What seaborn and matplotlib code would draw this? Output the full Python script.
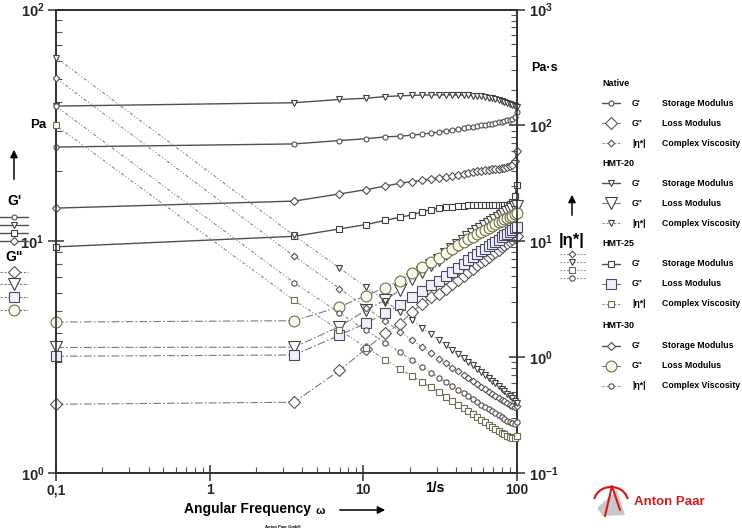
import matplotlib
matplotlib.use("Agg")
import matplotlib.pyplot as plt
import seaborn as sns
import numpy as np
from matplotlib.lines import Line2D
from matplotlib.patches import Arc, Polygon

# ---------------- data ----------------
freq = [0.1, 3.54, 6.99, 10.43, 13.88, 17.32, 20.77, 24.21, 27.66, 31.1, 34.55, 37.99,
        41.44, 44.88, 48.33, 51.77, 55.22, 58.66, 62.11, 65.55, 69.0, 72.44, 75.89,
        79.33, 82.78, 86.22, 89.67, 93.11, 96.56, 100.0]

native_gp = [25.5, 26.3, 27.2, 27.7, 28.2, 28.4, 28.7, 29.0, 29.3, 29.6, 29.9, 30.2, 30.5, 30.7,
             31.0, 31.2, 31.4, 31.6, 31.8, 32.0, 32.2, 32.4, 32.6, 32.8, 33.0, 33.2, 33.4, 33.8,
             34.5, 36.0]
native_gpp = [1.98, 2.02, 2.77, 3.44, 4.00, 4.41, 4.96, 5.38, 5.74, 5.92, 6.23, 6.54, 6.81, 7.10,
              7.36, 7.62, 7.87, 8.11, 8.34, 8.58, 8.79, 9.00, 9.21, 9.42, 9.62, 9.81, 10.01, 10.20,
              10.38, 10.56]
native_eta = [255.8, 7.45, 3.91, 2.68, 2.05, 1.66, 1.40, 1.22, 1.08, 0.971, 0.884, 0.813, 0.754,
              0.702, 0.659, 0.620, 0.586, 0.556, 0.529, 0.505, 0.484, 0.464, 0.446, 0.430, 0.415,
              0.402, 0.389, 0.379, 0.373, 0.375]

hmt20_gp = [38.3, 39.6, 40.9, 41.4, 42.1, 42.4, 42.6, 42.7, 42.8, 42.8, 42.8, 42.8, 42.7, 42.7,
            42.6, 42.5, 42.4, 42.2, 42.0, 41.7, 41.4, 41.1, 40.7, 40.3, 39.9, 39.5, 39.0, 38.6,
            38.2, 37.8]
hmt20_gpp = [3.48, 3.49, 4.28, 5.05, 5.57, 6.16, 6.84, 7.40, 7.89, 8.34, 8.85, 9.30, 9.68, 10.07,
             10.43, 10.74, 11.07, 11.34, 11.63, 11.89, 12.14, 12.37, 12.62, 12.85, 13.08, 13.31,
             13.54, 13.77, 14.01, 14.23]
hmt20_eta = [384.6, 11.23, 5.88, 4.00, 3.06, 2.47, 2.08, 1.79, 1.57, 1.40, 1.265, 1.153, 1.057,
             0.978, 0.908, 0.847, 0.794, 0.745, 0.702, 0.662, 0.625, 0.593, 0.562, 0.533, 0.507,
             0.483, 0.460, 0.440, 0.421, 0.404]

hmt25_gp = [9.46, 10.5, 11.3, 11.8, 12.3, 12.7, 13.0, 13.4, 13.7, 13.9, 14.0, 14.1, 14.2, 14.2,
            14.3, 14.3, 14.3, 14.3, 14.3, 14.3, 14.3, 14.3, 14.3, 14.3, 14.4, 14.4, 14.5, 14.8,
            15.6, 17.5]
hmt25_gpp = [3.19, 3.23, 3.93, 4.44, 4.88, 5.30, 5.76, 6.13, 6.47, 6.73, 7.07, 7.39, 7.68, 7.98,
             8.26, 8.52, 8.78, 9.04, 9.27, 9.51, 9.73, 9.95, 10.17, 10.38, 10.59, 10.79, 10.99,
             11.18, 11.38, 11.55]
hmt25_eta = [99.8, 3.10, 1.71, 1.21, 0.953, 0.795, 0.685, 0.609, 0.548, 0.497, 0.454, 0.419,
             0.390, 0.363, 0.342, 0.322, 0.304, 0.288, 0.274, 0.262, 0.251, 0.241, 0.231, 0.223,
             0.216, 0.209, 0.203, 0.199, 0.200, 0.210]

hmt30_gp = [13.9, 14.9, 16.0, 16.7, 17.3, 17.8, 18.1, 18.3, 18.6, 18.8, 19.0, 19.2, 19.4, 19.6,
            19.7, 19.9, 20.0, 20.1, 20.2, 20.3, 20.4, 20.5, 20.6, 20.7, 20.8, 20.9, 21.1, 21.4,
            22.2, 24.5]
hmt30_gpp = [4.48, 4.54, 5.21, 5.83, 6.31, 6.77, 7.29, 7.78, 8.15, 8.50, 8.92, 9.28, 9.60, 9.90,
             10.2, 10.45, 10.72, 10.97, 11.2, 11.43, 11.65, 11.86, 12.06, 12.25, 12.43, 12.6,
             12.75, 12.9, 13.05, 13.2]
hmt30_eta = [146.0, 4.40, 2.41, 1.70, 1.33, 1.10, 0.940, 0.821, 0.734, 0.663, 0.608, 0.561,
             0.522, 0.489, 0.459, 0.434, 0.411, 0.390, 0.372, 0.355, 0.341, 0.327, 0.315, 0.303,
             0.293, 0.283, 0.275, 0.268, 0.267, 0.278]

samples = ["Native", "HMT-20", "HMT-25", "HMT-30"]
left_ticks = [1, 10, 100]
left_labels = [r"$\mathbf{10^{0}}$", r"$\mathbf{10^{1}}$", r"$\mathbf{10^{2}}$"]
right_ticks = [0.1, 1, 10, 100, 1000]
right_labels = [r"$\mathbf{10^{-1}}$", r"$\mathbf{10^{0}}$", r"$\mathbf{10^{1}}$",
                r"$\mathbf{10^{2}}$", r"$\mathbf{10^{3}}$"]
x_ticks = [0.1, 1, 10, 100]
x_labels = ["0,1", "1", "10", "100"]

# ---------------- styles ----------------
sns.set_style("ticks")
plt.rcParams["font.family"] = ["Liberation Sans", "DejaVu Sans"]
plt.rcParams["mathtext.fontset"] = "custom"
plt.rcParams["mathtext.bf"] = "Liberation Sans:bold"
plt.rcParams["mathtext.rm"] = "Liberation Sans"

INK = "#303030"
GP_LINE = "#505050"
GPP_LINE = "#7a7a7a"
ETA_LINE = "#8a8a8a"
GPP_DASH = (0, (7, 2, 1.5, 2))
ETA_DASH = (0, (3, 1.8, 1, 1.8, 1, 1.8))

gp_style = {
    "Native": dict(marker="o", ms=3.6, mec="#505050", mfc="white"),
    "HMT-20": dict(marker="v", ms=5.0, mec="#404040", mfc="white"),
    "HMT-25": dict(marker="s", ms=4.6, mec="#404040", mfc="white"),
    "HMT-30": dict(marker="D", ms=3.6, mec="#505050", mfc="white"),
}
gpp_style = {
    "Native": dict(marker="D", ms=6.6, mec="#555555", mfc="white"),
    "HMT-20": dict(marker="v", ms=8.2, mec="#404040", mfc="white"),
    "HMT-25": dict(marker="s", ms=7.8, mec="#4a4a68", mfc="#f0f0fa"),
    "HMT-30": dict(marker="o", ms=7.8, mec="#6e6e4a", mfc="#fbfbec"),
}
eta_style = {
    "Native": dict(marker="D", ms=3.4, mec="#555555", mfc="white"),
    "HMT-20": dict(marker="v", ms=4.6, mec="#404040", mfc="white"),
    "HMT-25": dict(marker="s", ms=5.0, mec="#6b7050", mfc="white"),
    "HMT-30": dict(marker="o", ms=3.8, mec="#5a4a4a", mfc="white"),
}

gp_data = {"Native": native_gp, "HMT-20": hmt20_gp, "HMT-25": hmt25_gp, "HMT-30": hmt30_gp}
gpp_data = {"Native": native_gpp, "HMT-20": hmt20_gpp, "HMT-25": hmt25_gpp, "HMT-30": hmt30_gpp}
eta_data = {"Native": native_eta, "HMT-20": hmt20_eta, "HMT-25": hmt25_eta, "HMT-30": hmt30_eta}

W, H = 742, 531
fig = plt.figure(figsize=(W / 100, H / 100), dpi=100)
ax = fig.add_axes([56 / W, 1 - 473 / H, (517 - 56) / W, (473 - 9.5) / H])
ax2 = ax.twinx()

def draw(axis, y, st, color, ls, lw, z):
    sns.lineplot(x=freq, y=y, ax=axis, estimator=None, sort=False, legend=False,
                 color=color, linestyle=ls, linewidth=lw, marker=st["marker"],
                 markersize=st["ms"], markeredgecolor=st["mec"], markerfacecolor=st["mfc"],
                 markeredgewidth=0.8, clip_on=False, zorder=z)

for s in samples:
    draw(ax, gp_data[s], gp_style[s], GP_LINE, "-", 1.0, 3)
for s in samples:
    draw(ax, gpp_data[s], gpp_style[s], GPP_LINE, GPP_DASH, 0.8, 4)
for s in samples:
    draw(ax2, eta_data[s], eta_style[s], ETA_LINE, ETA_DASH, 0.8, 3)

ax.set_xscale("log")
ax.set_yscale("log")
ax2.set_yscale("log")
ax.set_xlim(0.1, 100)
ax.set_ylim(1, 100)
ax2.set_ylim(0.1, 1000)

ax.set_xticks(x_ticks)
ax.set_xticklabels(x_labels, fontweight="bold", fontsize=10)
ax.set_yticks(left_ticks)
ax.set_yticklabels(left_labels, fontsize=10.5)
ax2.set_yticks(right_ticks)
ax2.set_yticklabels(right_labels, fontsize=10.5)
ax.yaxis.set_minor_formatter(matplotlib.ticker.NullFormatter())
ax2.yaxis.set_minor_formatter(matplotlib.ticker.NullFormatter())
ax.xaxis.set_minor_formatter(matplotlib.ticker.NullFormatter())
ax.set_xlabel("")
ax.set_ylabel("")
ax2.set_ylabel("")

for a in (ax, ax2):
    for sp in a.spines.values():
        sp.set_color(INK)
        sp.set_linewidth(1.2)
    a.set_facecolor("none")
ax.tick_params(which="major", direction="inout", length=11, width=1.1, color=INK, pad=3)
ax.tick_params(which="minor", direction="in", length=4, width=0.8, color="#555555")
ax.tick_params(axis="x", which="major", pad=2)
ax2.tick_params(which="major", direction="inout", length=11, width=1.1, color=INK, pad=3)
ax2.tick_params(which="minor", direction="in", length=4, width=0.8, color="#555555")
ax.tick_params(axis="y", right=False, which="both")
ax.tick_params(axis="x", top=False, which="both")

# ---------------- overlay annotations ----------------
ov = fig.add_axes([0, 0, 1, 1], zorder=10)
ov.set_xlim(0, W)
ov.set_ylim(H, 0)
ov.axis("off")

bold = dict(fontweight="bold", color="black")

def arrow_up(x, y0, y1):
    ov.annotate("", xy=(x, y1), xytext=(x, y0),
                arrowprops=dict(arrowstyle="-|>", color="black", lw=1.1, mutation_scale=11))

# left unit & symbols
ov.text(38, 125, "Pa", fontsize=9.5, ha="center", va="center", **bold)
arrow_up(14, 182, 147)
ov.text(14, 201, "G'", fontsize=10, ha="center", va="center", **bold)
for y, s in zip([217, 225, 233, 241], samples):
    st = gp_style[s]
    ov.add_line(Line2D([0, 28], [y, y], color=GP_LINE, lw=1.0))
    ov.add_line(Line2D([14], [y], marker=st["marker"], ms=st["ms"], mec=st["mec"],
                       mfc="white", mew=0.8, ls="none"))
ov.text(14, 257, 'G"', fontsize=10, ha="center", va="center", **bold)
for y, s in zip([272, 284, 297, 310], ["Native", "HMT-20", "HMT-25", "HMT-30"]):
    st = gpp_style[s]
    ov.add_line(Line2D([0, 28], [y, y], color=GPP_LINE, lw=0.8, ls=(0, (2, 1.5))))
    ov.add_line(Line2D([14], [y], marker=st["marker"], ms=st["ms"], mec=st["mec"],
                       mfc=st["mfc"], mew=0.8, ls="none"))

# right unit & symbols
ov.text(531, 68, "Pa·s", fontsize=9, ha="left", va="center", **bold)
arrow_up(572, 218, 192)
ov.text(572, 241, "|η*|", fontsize=12, ha="center", va="center", **bold)
for y, s in zip([254, 262, 270, 278], samples):
    st = eta_style[s]
    ov.add_line(Line2D([560, 585], [y, y], color=ETA_LINE, lw=0.8, ls=(0, (1.5, 1.5))))
    ov.add_line(Line2D([572], [y], marker=st["marker"], ms=st["ms"], mec=st["mec"],
                       mfc="white", mew=0.8, ls="none"))

# legend block
heads = [83, 163, 244, 326]
for s, y0 in zip(samples, heads):
    ov.text(602, y0, s, fontsize=6.5, ha="left", va="center", **bold)
    rows = [(y0 + 20, gp_style[s], "-", 1.0, GP_LINE, "G'", "Storage Modulus"),
            (y0 + 40, gpp_style[s], "-", 0.8, GPP_LINE, 'G"', "Loss Modulus"),
            (y0 + 60, eta_style[s], (0, (2, 1.5)), 0.8, ETA_LINE, "|η*|", "Complex Viscosity")]
    for y, st, ls, lw, col, sym, name in rows:
        ov.add_line(Line2D([602, 620], [y, y], color=col, lw=lw, ls=ls))
        ov.add_line(Line2D([611], [y], marker=st["marker"], ms=st["ms"], mec=st["mec"],
                           mfc=st["mfc"], mew=0.8, ls="none"))
        ov.text(632, y, sym, fontsize=6.3, ha="left", va="center", **bold)
        ov.text(662, y, name, fontsize=6.3, ha="left", va="center", **bold)

# bottom texts
ov.text(435, 488, "1/s", fontsize=10, ha="center", va="center", **bold)
ov.text(248, 509, "Angular Frequency", fontsize=10, ha="center", va="center", **bold)
ov.text(320, 511, "ω", fontsize=8, ha="center", va="center", **bold)
ov.annotate("", xy=(388, 510), xytext=(337, 510),
            arrowprops=dict(arrowstyle="-|>", color="black", lw=1.1, mutation_scale=11))
ov.text(283, 527, "Anton Paar GmbH", fontsize=3, ha="center", va="center", **bold)

# Anton Paar logo
ov.add_patch(Polygon([[597, 508], [617, 490], [625, 515], [603, 516]], closed=True,
                     facecolor="#c8c8c8", edgecolor="none"))
ov.add_patch(Arc((611, 502), 34, 30, theta1=190, theta2=350, color="#cc2020", lw=1.6))
ov.add_line(Line2D([605, 612, 620], [516, 486, 510], color="#cc2020", lw=1.5))
ov.text(634, 502, "Anton Paar", fontsize=9.5, ha="left", va="center", color="#cc2020",
        fontweight="bold")

fig.savefig("out.png", dpi=100)
